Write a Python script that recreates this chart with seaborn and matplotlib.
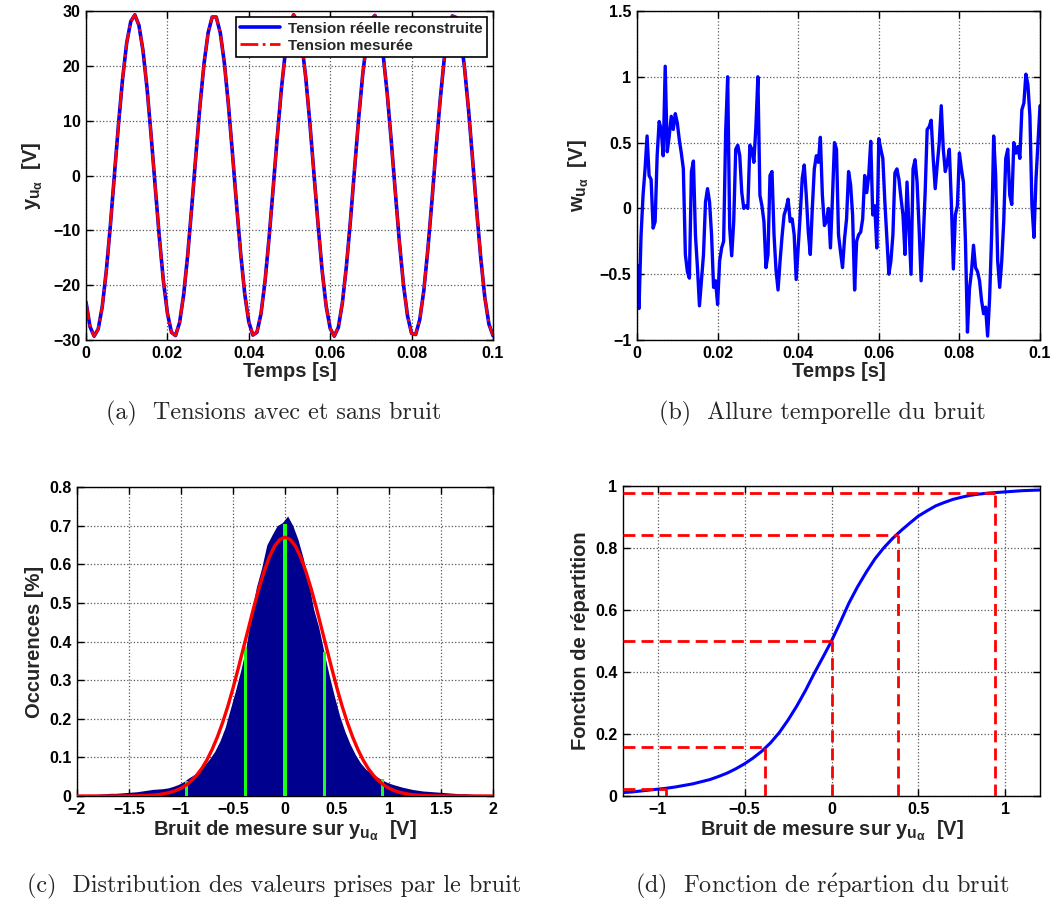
import numpy as np
import pandas as pd
import matplotlib
matplotlib.use("Agg")
import matplotlib.pyplot as plt
import matplotlib._mathtext as mathtext_internal
import seaborn as sns
from matplotlib.ticker import FuncFormatter, MultipleLocator

# ── Values ────────────────────────────────────────────────────────────────────
# (a) reconstructed / measured voltage, sampled every 1 ms
TEMPS_A = np.round(np.arange(0, 0.1001, 0.001), 3)
TENSION_REELLE = [
    -23.1, -27.6, -29.3, -28.0, -23.9, -17.3, -9.0, 0.3, 9.5, 17.7,
    24.2, 28.1, 29.3, 27.4, 22.8, 15.9, 7.3, -2.0, -11.1, -19.1,
    -25.1, -28.6, -29.2, -26.8, -21.7, -14.4, -5.6, 3.7, 12.7, 20.4,
    26.0, 28.9, 28.9, 26.0, 20.5, 12.8, 3.9, -5.4, -14.2, -21.6,
    -26.7, -29.1, -28.6, -25.2, -19.2, -11.2, -2.2, 7.1, 15.7, 22.7,
    27.4, 29.3, 28.2, 24.2, 17.8, 9.6, 0.4, -8.8, -17.2, -23.8,
    -27.9, -29.3, -27.7, -23.2, -16.4, -8.0, 1.3, 10.5, 18.5, 24.7,
    28.4, 29.2, 27.0, 22.1, 15.0, 6.3, -3.0, -12.1, -19.9, -25.6,
    -28.8, -29.0, -26.3, -21.0, -13.4, -4.6, 4.8, 13.6, 21.1, 26.4,
    29.1, 28.8, 25.5, 19.7, 11.9, 2.8, -6.5, -15.1, -22.3, -27.1,
    -29.2,
]
# the measured curve sits right on top of the reconstructed one
TENSION_MESUREE = list(TENSION_REELLE)

# (b) noise, sampled every 0.5 ms
TEMPS_B = np.round(np.arange(0, 0.10001, 0.0005), 4)
BRUIT = [
    -0.43, -0.76, -0.21, 0.10, 0.30, 0.55, 0.25, 0.22, -0.15, -0.10,
    0.40, 0.66, 0.60, 0.40, 1.08, 0.43, 0.55, 0.70, 0.60, 0.72,
    0.65, 0.52, 0.42, 0.30, -0.35, -0.48, -0.53, 0.28, 0.36, -0.20,
    -0.45, -0.74, -0.55, -0.35, 0.05, 0.15, 0.05, -0.20, -0.60, -0.55,
    -0.73, -0.40, -0.30, -0.25, 0.58, 1.00, -0.15, -0.36, -0.10, 0.45,
    0.48, 0.40, 0.12, 0.00, 0.02, 0.00, 0.48, 0.45, 0.35, 0.62,
    1.00, 0.10, 0.02, -0.10, -0.45, -0.35, 0.25,
    0.28, -0.20, -0.47, -0.62, -0.40, -0.21, -0.05, 0.00, 0.07, -0.10,
    -0.08, -0.20, -0.54, -0.30, -0.05, 0.23, 0.33, 0.10, -0.18, -0.35,
    0.00, 0.30, 0.40, 0.35, 0.54, 0.10, -0.13, -0.10, 0.00, -0.30,
    0.08, 0.50, 0.45, -0.20, -0.33, -0.45, -0.23, -0.08, 0.28, 0.18,
    -0.05, -0.62, -0.25, -0.20, -0.18, -0.08, 0.25, 0.12, 0.25, 0.51,
    -0.05, 0.02, -0.30, 0.53, 0.45, 0.38, 0.05, -0.23, -0.50, -0.40,
    -0.20, 0.27, 0.30, 0.22, 0.08, -0.05,
    -0.35, 0.20, -0.15, -0.50, 0.30, 0.37, 0.20, -0.15, -0.55, -0.25,
    0.12, 0.60, 0.62, 0.67, 0.38, 0.15, 0.33, 0.50, 0.78, 0.45,
    0.28, 0.35, 0.45, 0.05, -0.46, -0.05, 0.02, 0.42, 0.30, 0.20,
    -0.25, -0.94, -0.61, -0.48, -0.28, -0.45, -0.48, -0.55, -0.70, -0.80,
    -0.75, -0.97, -0.68, -0.20, 0.55, 0.25, -0.40, -0.60, -0.40, -0.10,
    0.38, 0.45, 0.10, 0.03, 0.50, 0.42, 0.47, 0.38, 0.75, 0.80,
    1.02, 0.94, 0.70, 0.02, -0.22, 0.22, 0.50, 0.78,
]

# (c) histogram of the noise (bin centres, occurrences in %)
HIST_EDGES = [round(-2.0 + 0.05 * i, 2) for i in range(81)]
HIST_CENTRES = [round(-1.975 + 0.05 * i, 3) for i in range(80)]
HIST_OCC = [
    0.003, 0.003, 0.004, 0.004, 0.005, 0.006, 0.007, 0.007, 0.008, 0.009,
    0.010, 0.011, 0.013, 0.015, 0.017, 0.018, 0.019, 0.021, 0.025, 0.030,
    0.037, 0.047, 0.055, 0.066, 0.080, 0.096, 0.116, 0.143, 0.178, 0.226,
    0.274, 0.326, 0.385, 0.470, 0.541, 0.590, 0.650, 0.676, 0.700, 0.708,
    0.725, 0.700, 0.664, 0.616, 0.555, 0.484, 0.436, 0.373, 0.312, 0.258,
    0.208, 0.168, 0.135, 0.108, 0.086, 0.070, 0.060, 0.051, 0.043, 0.036,
    0.031, 0.027, 0.023, 0.020, 0.017, 0.015, 0.013, 0.012, 0.011, 0.010,
    0.009, 0.008, 0.007, 0.006, 0.006, 0.005, 0.004, 0.004, 0.003, 0.003,
]
# fitted gaussian (red)
GAUSS_X = np.round(np.arange(-2.0, 2.0001, 0.05), 2)
GAUSS_Y = [
    0, 0, 0, 0, 0, 0, 0, 0.0001, 0.0001, 0.0002,
    0.0003, 0.0004, 0.0007, 0.0011, 0.0018, 0.0028, 0.0043, 0.0066, 0.0097, 0.0142,
    0.0202, 0.0285, 0.0394, 0.0535, 0.0714, 0.0936, 0.121, 0.153, 0.190, 0.232,
    0.279, 0.330, 0.383, 0.436, 0.489, 0.538, 0.582, 0.619, 0.647, 0.664,
    0.670,
    0.664, 0.647, 0.619, 0.582, 0.538, 0.489, 0.436, 0.383, 0.330, 0.279,
    0.232, 0.190, 0.153, 0.121, 0.0936, 0.0714, 0.0535, 0.0394, 0.0285, 0.0202,
    0.0142, 0.0097, 0.0066, 0.0043, 0.0028, 0.0018, 0.0011, 0.0007, 0.0004, 0.0003,
    0.0002, 0.0001, 0.0001, 0, 0, 0, 0, 0, 0, 0,
]
# quantiles (green bars in c, red dashes in d)
QUANT_X = [-0.95, -0.38, 0.0, 0.38, 0.94]
QUANT_P = [0.023, 0.159, 0.5, 0.841, 0.977]
QUANT_OCC = [0.040, 0.386, 0.705, 0.374, 0.043]

# (d) empirical CDF
CDF_X = np.round(np.arange(-1.2, 1.2001, 0.05), 2)
CDF_Y = [
    0.011, 0.013, 0.016, 0.019, 0.022,
    0.025, 0.029, 0.034, 0.039, 0.046, 0.053, 0.063, 0.074, 0.088, 0.104,
    0.123, 0.145, 0.172, 0.205, 0.245, 0.290, 0.340, 0.395, 0.447, 0.500,
    0.560, 0.622, 0.675, 0.722, 0.765, 0.800, 0.830, 0.856, 0.880, 0.903,
    0.920, 0.936, 0.947, 0.957, 0.964, 0.970, 0.974, 0.977, 0.979, 0.981,
    0.983, 0.985, 0.986, 0.987,
]

# ── Style ─────────────────────────────────────────────────────────────────────
sns.set_theme(style="ticks")
plt.rcParams["font.family"] = ["Liberation Sans", "DejaVu Sans"]
plt.rcParams.update({
    "font.weight": "bold",
    "axes.labelweight": "bold",
    "mathtext.fontset": "custom",
    "mathtext.rm": "Liberation Sans",
    "mathtext.it": "Liberation Sans:bold",
    "mathtext.bf": "Liberation Sans:bold",
    "axes.linewidth": 1.0,
    "axes.edgecolor": "black",
})
# MATLAB-like subscripts are a bit larger than mathtext's default
mathtext_internal.SHRINK_FACTOR = 0.78

BLUE = "#0000FF"
RED = "#FF0000"
NAVY = "#00008F"
LIME = "#19FF19"
CAPTION_FONT = ["cmr10", "DejaVu Serif"]

fmt = FuncFormatter(lambda v, p: f"{v:g}".replace("-", "\u2212"))


def style_ax(ax, xlim, ylim, xstep, ystep):
    ax.set_xlim(*xlim)
    ax.set_ylim(*ylim)
    ax.xaxis.set_major_locator(MultipleLocator(xstep))
    ax.yaxis.set_major_locator(MultipleLocator(ystep))
    ax.xaxis.set_major_formatter(fmt)
    ax.yaxis.set_major_formatter(fmt)
    ax.tick_params(direction="in", length=5, width=1, top=True, right=True,
                   labelsize=11.5, pad=4, colors="black")
    for lab in ax.get_xticklabels() + ax.get_yticklabels():
        lab.set_fontweight("bold")
    ax.grid(True, linestyle=":", color="0.35", linewidth=0.9)
    ax.set_axisbelow(True)
    for sp in ax.spines.values():
        sp.set_visible(True)
        sp.set_linewidth(1.0)
        sp.set_color("black")


fig = plt.figure(figsize=(10.52, 9.09), dpi=100)
W, H = 1052, 909


def axes_px(x0, x1, y0, y1):
    return fig.add_axes([x0 / W, 1 - y1 / H, (x1 - x0) / W, (y1 - y0) / H])


label_kw = dict(fontsize=14.5, fontweight="bold")
sub_y = r"$y_{u_{\mathrm{\alpha}}}$  [V]"
sub_w = r"$w_{u_{\mathrm{\alpha}}}$  [V]"
sub_x = r"Bruit de mesure sur $y_{u_{\mathrm{\alpha}}}$  [V]"

# (a) voltages
ax_a = axes_px(86, 493, 11, 340)
sns.lineplot(x=TEMPS_A, y=TENSION_REELLE, ax=ax_a, color=BLUE, lw=2.6,
             sort=False, estimator=None, label="Tension réelle reconstruite")
sns.lineplot(x=TEMPS_A, y=TENSION_MESUREE, ax=ax_a, color=RED, lw=2.0,
             linestyle="-.", sort=False, estimator=None, label="Tension mesurée")
style_ax(ax_a, (0, 0.1), (-30, 30), 0.02, 10)
ax_a.set_xlabel("Temps [s]", labelpad=1, **label_kw)
ax_a.set_ylabel(sub_y, labelpad=6, **label_kw)
leg = ax_a.legend(loc="upper right", prop={"weight": "bold", "size": 11},
                  fancybox=False, framealpha=1, edgecolor="black",
                  borderaxespad=0.4, handlelength=2.6, borderpad=0.3,
                  labelspacing=0.2, handletextpad=0.5)
leg.get_frame().set_linewidth(1.2)

# (b) noise
ax_b = axes_px(637, 1040, 11, 340)
sns.lineplot(x=TEMPS_B, y=BRUIT, ax=ax_b, color=BLUE, lw=2.4,
             sort=False, estimator=None)
style_ax(ax_b, (0, 0.1), (-1, 1.5), 0.02, 0.5)
ax_b.set_xlabel("Temps [s]", labelpad=1, **label_kw)
ax_b.set_ylabel(sub_w, labelpad=6, **label_kw)

# (c) histogram
ax_c = axes_px(77, 493, 487, 796)
hist_df = pd.DataFrame({"centre": HIST_CENTRES, "occ": HIST_OCC})
sns.histplot(data=hist_df, x="centre", weights="occ", bins=HIST_EDGES, ax=ax_c,
             color=NAVY, alpha=1, linewidth=0, element="poly", stat="count")
ax_c.bar(QUANT_X, QUANT_OCC, width=0.03, color=LIME, linewidth=0, zorder=3)
sns.lineplot(x=GAUSS_X, y=GAUSS_Y, ax=ax_c, color=RED, lw=2.4,
             sort=False, estimator=None, zorder=4)
style_ax(ax_c, (-2, 2), (0, 0.8), 0.5, 0.1)
ax_c.set_xlabel(sub_x, labelpad=1, **label_kw)
ax_c.set_ylabel("Occurences [%]", labelpad=4, **label_kw)

# (d) cumulative distribution
ax_d = axes_px(623, 1040, 486, 796)
sns.lineplot(x=CDF_X, y=CDF_Y, ax=ax_d, color=BLUE, lw=2.2,
             sort=False, estimator=None, zorder=3)
ax_d.hlines(QUANT_P, -1.2, QUANT_X, colors=RED, linestyles=(0, (4.3, 2.2)),
            lw=2.0, zorder=4)
ax_d.vlines(QUANT_X, 0, QUANT_P, colors=RED, linestyles=(0, (4.3, 2.2)),
            lw=2.0, zorder=4)
style_ax(ax_d, (-1.2, 1.2), (0, 1), 0.5, 0.2)
ax_d.set_xlabel(sub_x, labelpad=1, **label_kw)
ax_d.set_ylabel("Fonction de répartition", labelpad=4, **label_kw)

# captions
cap_kw = dict(fontsize=17.4, family=CAPTION_FONT, fontweight="normal",
              ha="center", va="center", math_fontfamily="cm")
fig.text(274 / W, 1 - 413 / H, "(a)  Tensions avec et sans bruit", **cap_kw)
fig.text(822 / W, 1 - 413 / H, "(b)  Allure temporelle du bruit", **cap_kw)
fig.text(274 / W, 1 - 886 / H, "(c)  Distribution des valeurs prises par le bruit", **cap_kw)
fig.text(822 / W, 1 - 886 / H, r"(d)  Fonction de r$\acute{\mathrm{e}}$partion du bruit", **cap_kw)

fig.savefig("out.png", dpi=100)
plt.close(fig)
